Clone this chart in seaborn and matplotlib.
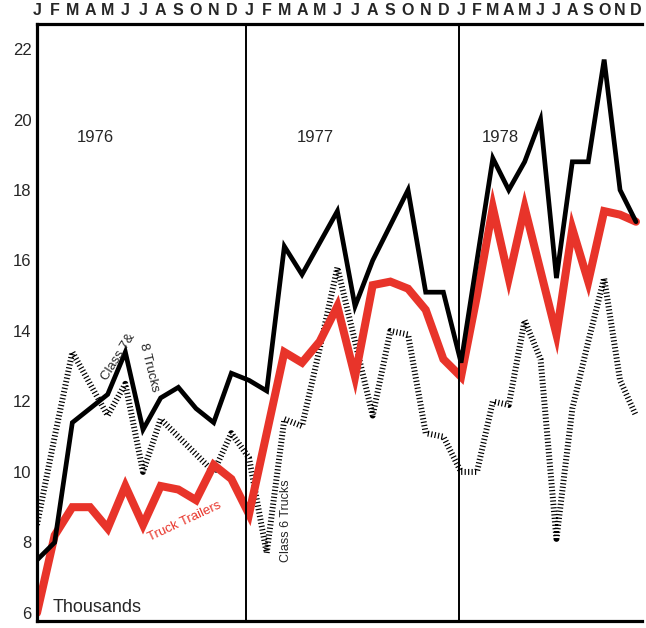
import numpy as np
import pandas as pd
import matplotlib
matplotlib.use("Agg")
import matplotlib.pyplot as plt
import seaborn as sns

# monthly output, thousands of units, Jan 1976 .. Dec 1978
month_letters = ["J", "F", "M", "A", "M", "J", "J", "A", "S", "O", "N", "D"] * 3
years = ["1976", "1977", "1978"]

class_7_8 = [7.5, 8.0, 11.4, 11.8, 12.2, 13.4, 11.2, 12.1, 12.4, 11.8, 11.4, 12.8,
             12.6, 12.3, 16.4, 15.6, 16.5, 17.4, 14.7, 16.0, 17.0, 18.0, 15.1, 15.1,
             13.1, 16.0, 18.9, 18.0, 18.8, 20.0, 15.5, 18.8, 18.8, 21.7, 18.0, 17.1]

truck_trailers = [6.0, 8.2, 9.0, 9.0, 8.4, 9.6, 8.5, 9.6, 9.5, 9.2, 10.2, 9.8,
                  8.8, 11.1, 13.4, 13.1, 13.7, 14.7, 12.7, 15.3, 15.4, 15.2, 14.6, 13.2,
                  12.7, 15.0, 17.5, 15.5, 17.5, 15.7, 13.9, 16.9, 15.4, 17.4, 17.3, 17.1]

class_6 = [8.5, 11.0, 13.4, 12.5, 11.6, 12.5, 10.0, 11.5, 11.0, 10.5, 10.0, 11.1,
           10.4, 7.7, 11.5, 11.3, 13.5, 15.8, 13.7, 11.6, 14.0, 13.9, 11.1, 11.0,
           10.0, 10.0, 12.0, 11.9, 14.3, 13.2, 8.1, 11.8, 13.7, 15.5, 12.6, 11.6]

yticks = [6, 8, 10, 12, 14, 16, 18, 20, 22]

df = pd.DataFrame({
    "month": np.arange(len(month_letters)),
    "class78": class_7_8,
    "trailers": truck_trailers,
    "class6": class_6,
})

sns.set_style("white")
plt.rcParams["font.family"] = ["Liberation Sans", "DejaVu Sans"]

RED = "#e8342a"

fig = plt.figure(figsize=(6.46, 6.28), dpi=100)
ax = fig.add_axes([37 / 646, 7 / 628, 605 / 646, 597 / 628])

# the printed page is curled at the right, so 1978 is a bit squeezed
squeeze = 0.9
def fwd(x):
    x = np.asarray(x, dtype=float)
    return np.where(x <= 24, x, 24 + (x - 24) * squeeze)
def inv(x):
    x = np.asarray(x, dtype=float)
    return np.where(x <= 24, x, 24 + (x - 24) / squeeze)
ax.set_xscale("function", functions=(fwd, inv))

sns.lineplot(data=df, x="month", y="class6", ax=ax, color="black", lw=4.3,
             linestyle=(0, (0.2, 0.38)), solid_capstyle="butt", dash_capstyle="butt")
sns.lineplot(data=df, x="month", y="trailers", ax=ax, color=RED, lw=5.8,
             solid_joinstyle="miter")
sns.lineplot(data=df, x="month", y="class78", ax=ax, color="black", lw=3.4,
             solid_joinstyle="miter")

# year dividers
for xb in [11.83, 23.88]:
    ax.axvline(xb, color="black", lw=1.4)

ax.set_xlim(0, 35.38)
ax.set_ylim(5.77, 22.71)

ax.set_xticks(df["month"])
ax.set_xticklabels(month_letters, fontsize=11.5, fontweight="bold")
ax.xaxis.tick_top()
ax.tick_params(axis="x", length=0, pad=4)
ax.set_yticks(yticks)
ax.set_yticklabels([str(t) for t in yticks], fontsize=12)
ax.tick_params(axis="y", length=0, pad=4)
ax.set_xlabel("")
ax.set_ylabel("")

for side in ["left", "top", "bottom"]:
    ax.spines[side].set_linewidth(2.3)
    ax.spines[side].set_color("black")
ax.spines["right"].set_visible(False)

# year labels
for xi, yr in zip([3.28, 15.73, 26.5], years):
    ax.text(xi, 19.48, yr, fontsize=12, ha="center", va="center")

ax.text(0.9, 6.14, "Thousands", fontsize=13, ha="left", va="center")

ax.text(4.6, 13.25, "Class 7&", fontsize=9.5, rotation=58, ha="center", va="center")
ax.text(6.35, 12.95, "8 Trucks", fontsize=9.5, rotation=-76, ha="center", va="center")
ax.text(8.35, 8.6, "Truck Trailers", fontsize=9.5, rotation=25, color=RED,
        ha="center", va="center")
ax.text(14.1, 8.62, "Class 6 Trucks", fontsize=9, rotation=90,
        ha="center", va="center")

fig.savefig("out.png", dpi=100)
